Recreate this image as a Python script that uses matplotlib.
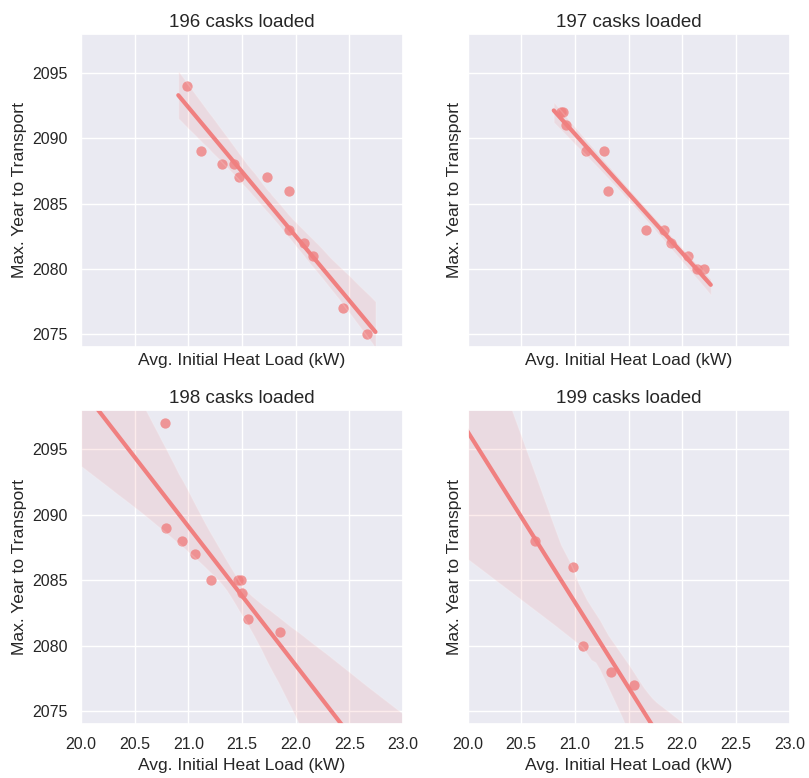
import numpy as np
import matplotlib
matplotlib.use("Agg")
import matplotlib.pyplot as plt
import seaborn as sns

sns.set_theme(style="darkgrid", context="notebook")
plt.rcParams['font.family'] = ['Liberation Sans', 'DejaVu Sans']

titles = ["196 casks loaded", "197 casks loaded", "198 casks loaded", "199 casks loaded"]

heat_196 = [20.99, 21.12, 21.31, 21.43, 21.47, 21.73, 21.94, 21.94, 22.08, 22.16, 22.44, 22.66]
year_196 = [2094, 2089, 2088, 2088, 2087, 2087, 2086, 2083, 2082, 2081, 2077, 2075]

heat_197 = [20.87, 20.89, 20.92, 21.10, 21.27, 21.31, 21.66, 21.83, 21.90, 22.05, 22.14, 22.20]
year_197 = [2092, 2092, 2091, 2089, 2089, 2086, 2083, 2083, 2082, 2081, 2080, 2080]

heat_198 = [20.78, 20.79, 20.94, 21.06, 21.21, 21.46, 21.49, 21.50, 21.56, 21.85]
year_198 = [2097, 2089, 2088, 2087, 2085, 2085, 2085, 2084, 2082, 2081]

heat_199 = [20.63, 20.98, 21.08, 21.34, 21.55]
year_199 = [2088, 2086, 2080, 2078, 2077]

xs = [heat_196, heat_197, heat_198, heat_199]
ys = [year_196, year_197, year_198, year_199]

xticks = [20.0, 20.5, 21.0, 21.5, 22.0, 22.5, 23.0]
yticks = [2075, 2080, 2085, 2090, 2095]

W, H = 809, 778
fig = plt.figure(figsize=(W / 100, H / 100), dpi=100)

boxes = [
    (81, 34, 403, 347),
    (467.5, 34, 789.5, 347),
    (81, 410, 403, 724),
    (467.5, 410, 789.5, 724),
]
color = "lightcoral"
for i, (l, t, r, b) in enumerate(boxes):
    ax = fig.add_axes([l / W, 1 - b / H, (r - l) / W, (b - t) / H])
    if i >= 2:
        ax.set_xlim(19.5, 23.5)
    sns.regplot(x=np.array(xs[i]), y=np.array(ys[i]), ax=ax, color=color,
                truncate=False, ci=95, n_boot=1000, seed=3,
                scatter_kws=dict(s=55, alpha=0.8, linewidths=0),
                line_kws=dict(lw=3))
    ax.set_xlim(20, 23)
    ax.set_ylim(2074, 2098)
    ax.set_xticks(xticks)
    ax.set_yticks(yticks)
    ax.set_title(titles[i], fontsize=13.5, pad=5)
    ax.set_xlabel("Avg. Initial Heat Load (kW)", fontsize=12.6)
    ax.set_ylabel("Max. Year to Transport", fontsize=12.6)
    ax.tick_params(labelsize=11.5)
    if i < 2:
        ax.tick_params(labelbottom=False)
    else:
        ax.set_xticklabels(["%.1f" % v for v in xticks])
    if i % 2 == 1:
        ax.tick_params(labelleft=False)

fig.savefig("out.png", dpi=100)
